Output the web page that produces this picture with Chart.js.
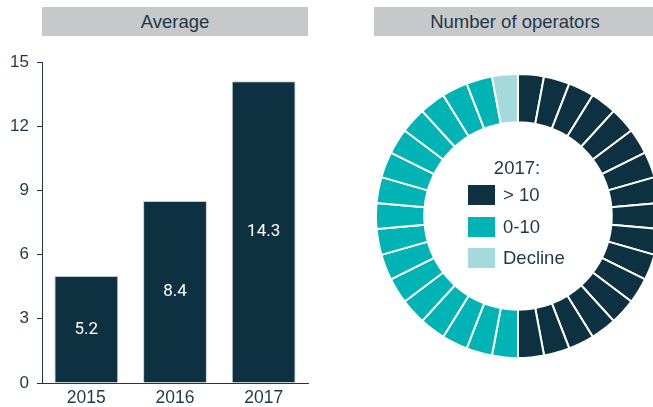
<!DOCTYPE html>
<html>
<head>
<meta charset="utf-8">
<script src="https://cdn.jsdelivr.net/npm/chart.js@4"></script>
<style>
  body { margin: 0; width: 653px; height: 407px; overflow: hidden; background: #fff;
         font-family: "Liberation Sans", Arial, sans-serif; color: #1d3849; position: relative; }
  .head { position: absolute; top: 7px; height: 29px; line-height: 29px; background: #c7c8ca;
          text-align: center; font-size: 18.5px; }
  #barBox { position: absolute; left: 0; top: 0; width: 330px; height: 407px; }
  #ringBox { position: absolute; left: 375px; top: 73px; width: 286px; height: 286px; }
  .key { position: absolute; left: 468px; font-size: 18.5px; line-height: 20px; }
  .key span { display: inline-block; width: 27px; height: 20px; vertical-align: top; margin-right: 8px; }
  #year { position: absolute; left: 467px; width: 100px; top: 157px; text-align: center; font-size: 18.5px; }
</style>
</head>
<body>
<div class="head" style="left:42px;width:266px;">Average</div>
<div class="head" style="left:374px;width:282px;">Number of operators</div>
<div id="barBox"><canvas id="barChart"></canvas></div>
<div id="ringBox"><canvas id="ringChart"></canvas></div>
<div id="year">2017:</div>
<div class="key" style="top:185px;"><span style="background:#0e3142"></span>&gt; 10</div>
<div class="key" style="top:217px;"><span style="background:#00b4b6"></span>0-10</div>
<div class="key" style="top:248px;"><span style="background:#a5dadd"></span>Decline</div>
<script>
const years = ['2015', '2016', '2017'];
const averages = [5.0, 8.5, 14.1];
const averageLabels = ['5.2', '8.4', '14.3'];
const yTicks = [0, 3, 6, 9, 12, 15];

const groupNames = ['> 10', '0-10', 'Decline'];
const groupCounts = [17, 16, 1];
const groupColors = ['#0e3142', '#00b4b6', '#a5dadd'];

const ink = '#1d3849';

const valueLabels = {
  id: 'valueLabels',
  afterDatasetsDraw(chart) {
    const ctx = chart.ctx;
    const meta = chart.getDatasetMeta(0);
    ctx.save();
    ctx.fillStyle = '#ffffff';
    ctx.font = '17px Roboto, "Liberation Sans", sans-serif';
    ctx.textAlign = 'center';
    ctx.textBaseline = 'middle';
    meta.data.forEach(function(bar, i) {
      ctx.fillText(averageLabels[i], bar.x, (bar.y + bar.base) / 2);
    });
    ctx.restore();
  }
};

new Chart(document.getElementById('barChart'), {
  type: 'bar',
  data: {
    labels: years,
    datasets: [{
      data: averages,
      backgroundColor: '#0e3142',
      borderColor: '#c3ccd1',
      borderWidth: 1,
      barPercentage: 0.8,
      categoryPercentage: 0.9
    }]
  },
  options: {
    responsive: true,
    maintainAspectRatio: false,
    animation: false,
    layout: { padding: { top: 62, right: 22, bottom: 0, left: 0 } },
    plugins: { legend: { display: false }, tooltip: { enabled: false } },
    scales: {
      x: {
        grid: { display: false, drawTicks: false },
        border: { display: true, color: ink, width: 1 },
        ticks: { color: ink, font: { size: 17.5, family: '"Liberation Sans", Arial' }, padding: 5 },
        afterFit(scale) { scale.height = 24; }
      },
      y: {
        min: 0,
        max: 15,
        afterBuildTicks(scale) { scale.ticks = yTicks.map(v => ({ value: v })); },
        grid: { display: true, drawOnChartArea: false, drawTicks: true, tickLength: 5, color: ink },
        border: { display: true, color: ink, width: 1 },
        ticks: { color: ink, font: { size: 17, family: '"Liberation Sans", Arial' }, padding: 8 },
        afterFit(scale) { scale.width = 42; }
      }
    }
  },
  plugins: [valueLabels]
});

const ringData = [];
const ringColors = [];
groupCounts.forEach(function(n, g) {
  for (let k = 0; k < n; k++) {
    ringData.push(1);
    ringColors.push(groupColors[g]);
  }
});

new Chart(document.getElementById('ringChart'), {
  type: 'doughnut',
  data: {
    datasets: [{
      data: ringData,
      backgroundColor: ringColors,
      borderColor: '#ffffff',
      borderWidth: 2
    }]
  },
  options: {
    responsive: true,
    maintainAspectRatio: false,
    animation: false,
    cutout: '66%',
    plugins: { legend: { display: false }, tooltip: { enabled: false } }
  }
});
</script>
</body>
</html>
